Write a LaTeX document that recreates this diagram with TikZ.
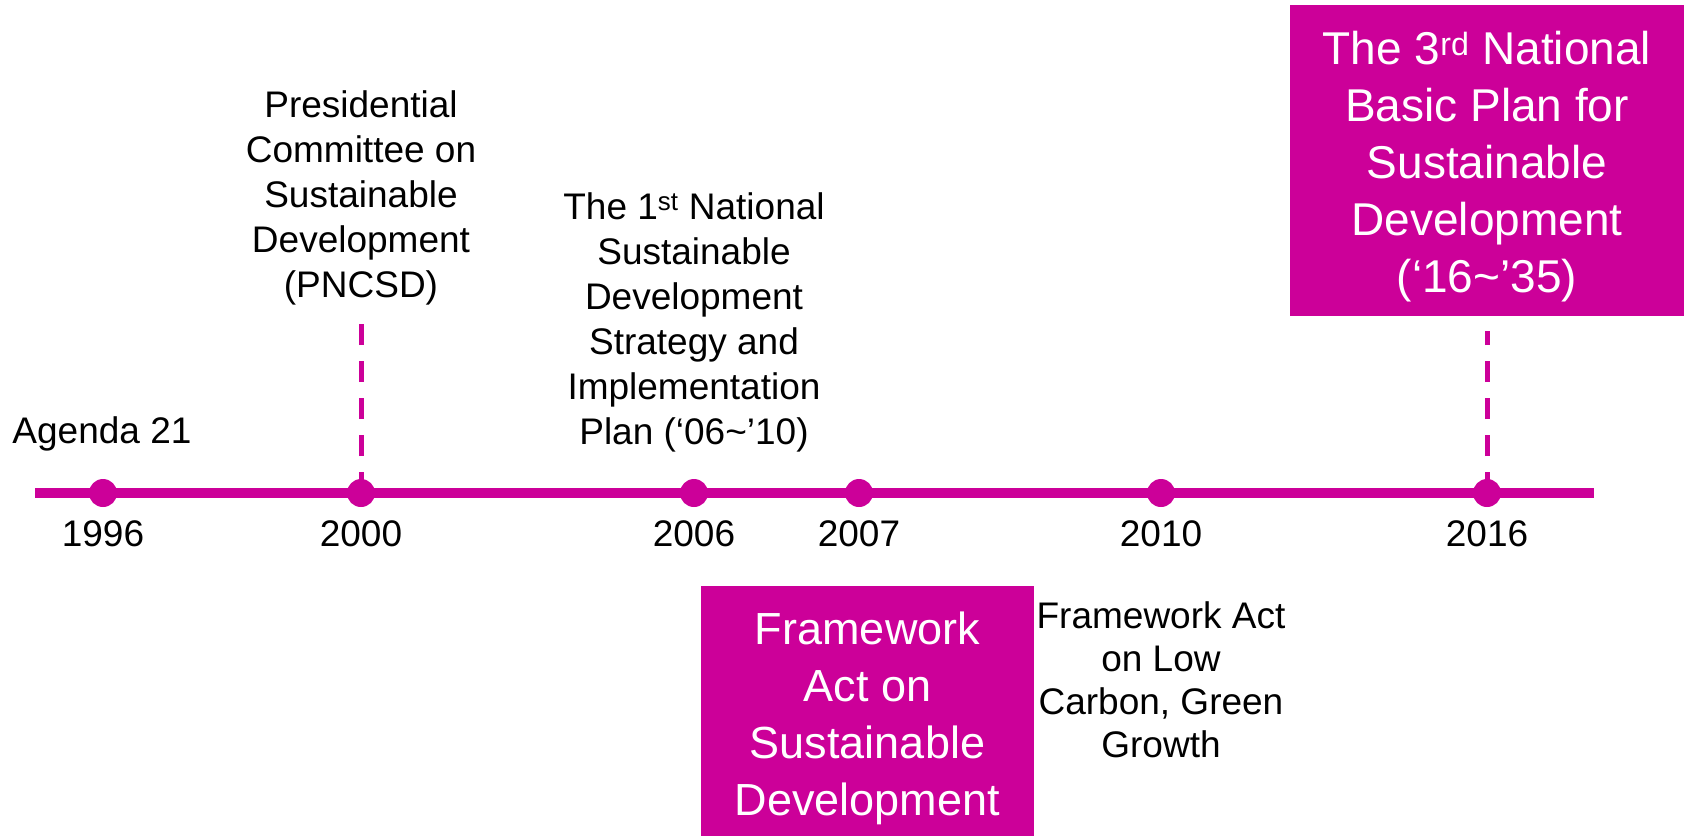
\documentclass[tikz,border=0pt]{standalone}
\usepackage{fontspec}
\setmainfont{Liberation Sans}
\usepackage{tikz}
\usepackage{xcolor}

\definecolor{plum}{RGB}{204,0,153}

\tikzset{
  tline/.style={draw=plum, line width=10pt},
  dot/.style={circle, fill=plum, inner sep=0pt, minimum size=28pt},
  dashline/.style={draw=plum, line width=5pt, dash pattern=on 21pt off 16pt},
  yearlabel/.style={inner sep=0pt, font=\fontsize{37}{45}\selectfont},
  eventtext/.style={inner sep=0pt, align=center, font=\fontsize{37}{45}\selectfont},
  eventbox/.style={fill=plum, text=white, inner sep=0pt, align=center, font=\fontsize{46}{57}\selectfont}
}

\begin{document}
\begin{tikzpicture}[x=1pt,y=1pt,yscale=-1,xscale=1]
\useasboundingbox (0,0) rectangle (1684,836);

%Straight Lines [id:timeline]
\coordinate (tstart) at (35,493);
\coordinate (tend) at (1594,493);
\draw [tline] (tstart) -- (tend);

%Shape: Circle [id:dots] and year labels
\foreach \yr/\xx in {1996/103, 2000/361, 2006/694, 2007/859, 2010/1161, 2016/1487}{
  \node [dot] (d\yr) at (\xx,493) {};
  \node [yearlabel] (y\yr) at (\xx,534) {\yr};
}

% Text Node
\node [eventtext] (agenda) at (102,434) {Agenda 21};
% Text Node
\node [eventtext] (pcsd) at (361,198) {Presidential\\Committee on\\Sustainable\\Development\\(PNCSD)};
% Text Node
\node [eventtext] (nsds) at (694,322) {The 1\textsuperscript{st} National\\Sustainable\\Development\\Strategy and\\Implementation\\Plan (‘06\textasciitilde’10)};
% Text Node
\node [eventtext, font=\fontsize{37}{43}\selectfont] (lowcarbon) at (1161,680) {Framework Act\\on Low\\Carbon, Green\\Growth};

%Shape: Rectangle [id:fasd]
\node [eventbox, font=\fontsize{45}{57}\selectfont, minimum width=333pt, minimum height=250pt] (fasd) at (867.5,711) {\rule{0pt}{48pt}Framework\\Act on\\Sustainable\\Development};
%Shape: Rectangle [id:nbpsd]
\node [eventbox, minimum width=394pt, minimum height=311pt] (nbpsd) at (1487,160.5) {\rule{0pt}{45pt}The 3\textsuperscript{rd} National\\Basic Plan for\\Sustainable\\Development\\(‘16\textasciitilde’35)};

%Straight Lines [id:dashed]
\draw [dashline, shorten >=5pt] (d2000.center) -- (pcsd.south);
\draw [dashline, shorten >=15pt] (d2016.center) -- (nbpsd.south);

\end{tikzpicture}
\end{document}
